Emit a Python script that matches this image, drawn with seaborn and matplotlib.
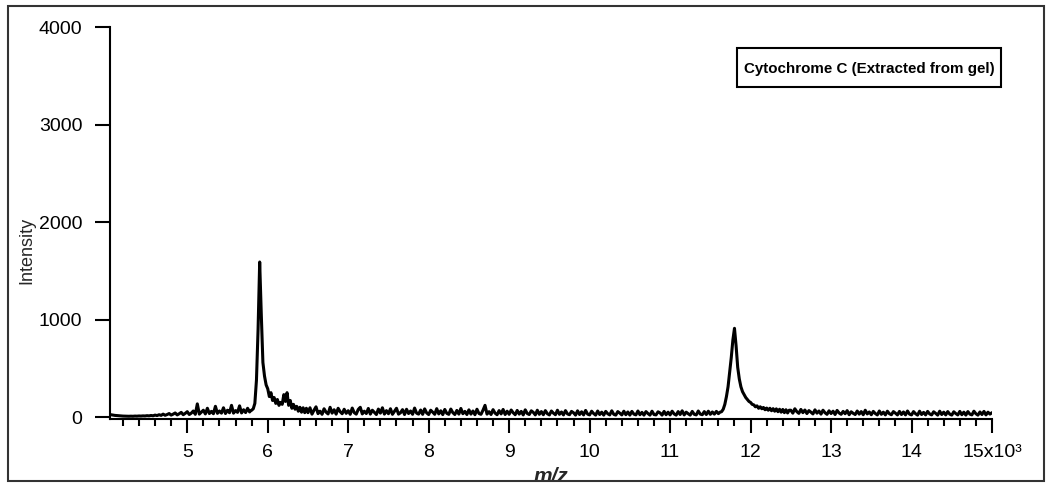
import numpy as np
import pandas as pd
import matplotlib
matplotlib.use("Agg")
import matplotlib.pyplot as plt
import seaborn as sns
from matplotlib.patches import Rectangle
from matplotlib.ticker import MultipleLocator, FixedLocator

# ---------------- data ----------------
mz_a = np.arange(4050, 5800, 25)
int_a = [24, 20, 17, 15, 13, 11, 10, 9, 8, 8, 9, 8, 10, 9, 11, 10, 12, 11, 14, 12,
         16, 13, 20, 15, 24, 17, 30, 18, 26, 36, 20, 30, 42, 22, 34, 48, 24, 38, 55, 26,
         40, 62, 28, 135, 30, 50, 70, 32, 90, 36, 58, 34, 110, 38, 62, 40, 95, 36, 70, 44,
         120, 40, 66, 48, 115, 42, 75, 46, 90, 52]

mz_b = np.arange(5780, 6500, 20)
int_b = [60, 70, 85, 140, 380, 900, 1590, 1050, 560, 420,
         330, 290, 210, 250, 170, 200, 140, 180, 120, 150,
         130, 230, 160, 250, 120, 170, 90, 130, 80, 110,
         60, 100, 50, 95, 45, 90]

mz_c = np.arange(6500, 11600, 25)
int_c = [45, 95, 30, 70, 105, 35, 60, 28, 85, 50, 32, 100, 40, 75, 30, 90, 55, 34, 80, 38,
         65, 28, 92, 45, 30, 78, 100, 32, 60, 36, 88, 30, 70, 48, 26, 82, 40, 95, 30, 66,
         34, 85, 28, 58, 90, 30, 44, 76, 26, 80, 36, 62, 28, 92, 40, 30, 72, 28, 84, 42,
         26, 70, 50, 28, 86, 32, 64, 25, 78, 38, 28, 82, 45, 26, 68, 30, 88, 34, 58, 26,
         74, 30, 62, 24, 80, 36, 28, 70, 120, 30, 55, 26, 76, 40, 24, 66, 32, 78, 26, 60,
         28, 72, 44, 24, 68, 30, 58, 22, 74, 36, 26, 64, 48, 22, 70, 28, 56, 24, 66, 34,
         22, 62, 40, 24, 70, 28, 52, 22, 66, 32, 24, 58, 44, 20, 64, 26, 54, 22, 68, 30,
         22, 60, 36, 20, 62, 26, 50, 20, 58, 34, 22, 64, 28, 20, 56, 40, 22, 60, 24, 52,
         20, 58, 30, 22, 62, 24, 48, 20, 56, 36, 20, 60, 26, 22, 54, 42, 20, 58, 24, 50,
         22, 60, 32, 20, 56, 26, 64, 22, 50, 34, 20, 58, 28, 22, 62, 30, 24, 56, 26, 60,
         28, 52, 30, 58]

mz_d = np.arange(11600, 12500, 20)
int_d = [35, 50, 55, 80, 130, 210, 310, 460, 610, 790,
         910, 730, 510, 390, 310, 260, 230, 200, 180, 160,
         150, 130, 125, 105, 115, 90, 105, 85, 98, 75,
         92, 70, 90, 65, 86, 60, 84, 55, 80, 50,
         78, 45, 75, 42, 70]

mz_e = np.arange(12500, 15001, 25)
int_e = [70, 40, 85, 55, 38, 78, 45, 72, 36, 66, 50, 32, 74, 40, 62, 30, 70, 44, 28, 64,
         36, 60, 26, 68, 42, 28, 58, 34, 66, 24, 54, 38, 26, 62, 30, 56, 24, 70, 32, 52,
         24, 58, 36, 22, 62, 28, 50, 22, 60, 34, 24, 56, 40, 22, 58, 26, 52, 22, 62, 30,
         22, 56, 34, 20, 60, 26, 48, 22, 58, 32, 22, 54, 38, 20, 60, 26, 50, 22, 56, 30,
         20, 54, 36, 22, 58, 24, 50, 20, 56, 30, 22, 60, 34, 20, 52, 26, 58, 22, 50, 30,
         45]

x_ticks = [5000, 6000, 7000, 8000, 9000, 10000, 11000, 12000, 13000, 14000, 15000]
x_ticklabels = ["5", "6", "7", "8", "9", "10", "11", "12", "13", "14", "15x10\u00b3"]
y_ticks = [0, 1000, 2000, 3000, 4000]
title_text = "Cytochrome C (Extracted from gel)"

df = pd.DataFrame({
    "mz": np.concatenate([mz_a, mz_b, mz_c, mz_d, mz_e]),
    "intensity": np.concatenate([int_a, int_b, int_c, int_d, int_e]).astype(float),
})

# ---------------- figure ----------------
sns.set_theme(style="white")
plt.rcParams["font.family"] = ["Liberation Sans", "DejaVu Sans"]

W, H = 1046, 484
fig = plt.figure(figsize=(W / 100, H / 100), dpi=100)
ax = fig.add_axes([110 / W, 1 - 419 / H, (992 - 110) / W, (419 - 27) / H])

sns.lineplot(data=df, x="mz", y="intensity", ax=ax, color="black",
             linewidth=2.2, estimator=None, sort=False)

ax.set_xlim(4040, 15000)
ax.set_ylim(-20, 4000)

ax.xaxis.set_major_locator(FixedLocator(x_ticks))
ax.set_xticklabels(x_ticklabels)
ax.xaxis.set_minor_locator(MultipleLocator(200))
ax.yaxis.set_major_locator(FixedLocator(y_ticks))
ax.set_yticklabels([str(v) for v in y_ticks])

for s in ["top", "right"]:
    ax.spines[s].set_visible(False)
for s in ["left", "bottom"]:
    ax.spines[s].set_linewidth(1.5)
    ax.spines[s].set_color("black")

ax.tick_params(axis="y", which="major", direction="out", length=11, width=1.5,
               colors="black", labelsize=14, pad=9, left=True)
ax.tick_params(axis="x", which="major", direction="out", length=10, width=1.5,
               colors="black", labelsize=14, pad=8, bottom=True)
ax.tick_params(axis="x", which="minor", direction="out", length=5, width=1.5,
               colors="black", bottom=True)
ax.tick_params(axis="y", which="minor", left=False)

ax.set_ylabel("Intensity", fontsize=13)
ax.yaxis.set_label_coords(-0.094, 0.431)
ax.yaxis.label.set_va("center")
ax.set_xlabel("m/z", fontsize=15, fontweight="bold", style="italic")
ax.xaxis.set_label_coords(0.5, -0.122)
ax.xaxis.label.set_va("top")

# title box
bx0, bx1, by0, by1 = 737, 1001, 48, 87
ax.add_patch(Rectangle(((bx0 - 110) / 882, (419 - by1) / 392), (bx1 - bx0) / 882, (by1 - by0) / 392,
                       transform=ax.transAxes, fill=True, fc="white", ec="black", lw=1.5,
                       clip_on=False, zorder=5))
ax.text(((bx0 + bx1) / 2 - 110) / 882, (419 - (by0 + by1) / 2) / 392, title_text,
        transform=ax.transAxes, ha="center", va="center_baseline",
        fontsize=10.9, fontweight="bold", color="black", zorder=6)

# outer frame
fig.add_artist(Rectangle((8 / W, 1 - 481 / H), (1044 - 8) / W, (481 - 6) / H,
                         transform=fig.transFigure, fill=False, ec="#333333", lw=1.5))

fig.savefig("out.png", dpi=100)
